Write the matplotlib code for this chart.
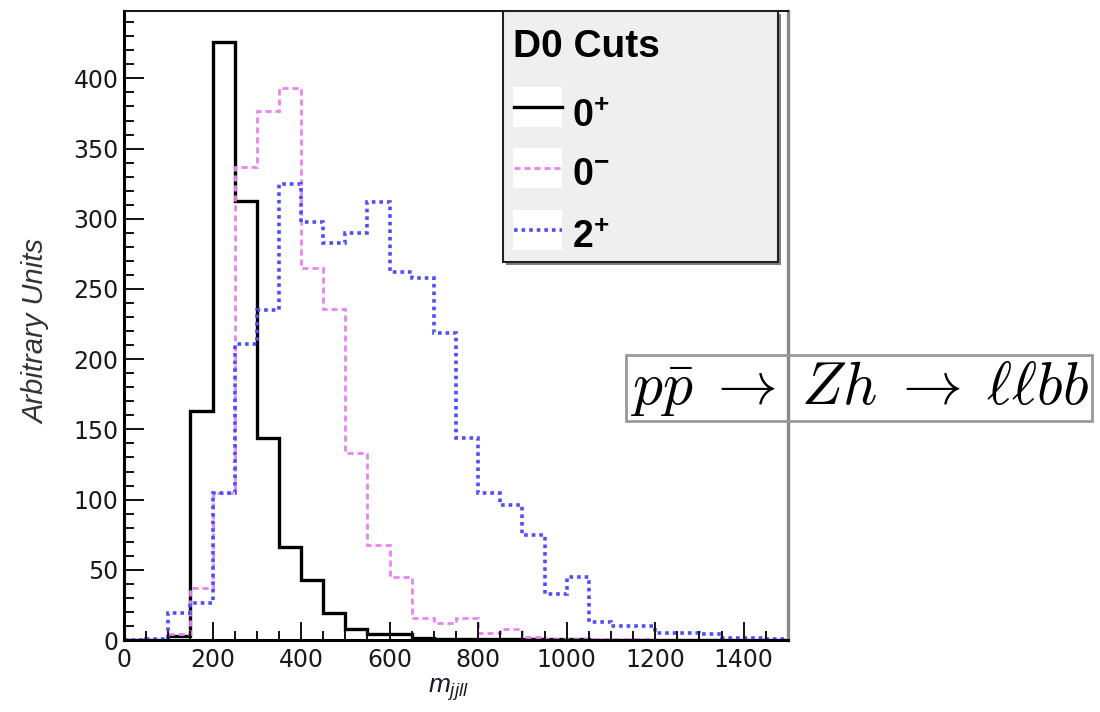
import numpy as np
import matplotlib
matplotlib.use("Agg")
import matplotlib.pyplot as plt
from matplotlib.patches import Rectangle
from matplotlib.ticker import MultipleLocator

# mathtext in a Helvetica-like face, the big formula uses cm separately
plt.rcParams['mathtext.fontset'] = 'custom'
plt.rcParams['mathtext.rm'] = 'Liberation Sans'
plt.rcParams['mathtext.it'] = 'Liberation Sans:italic'
plt.rcParams['mathtext.bf'] = 'Liberation Sans:bold'

# histogram bins, m_jjll from 0 to 1500 in steps of 50
bin_edges = np.arange(0, 1550, 50)

# 0+ (solid black)
zero_plus = [0, 0, 3, 163, 426, 313, 144, 66, 43, 19, 8, 4, 4, 1.5, 1,
             1, 0.5, 0.5, 0.5, 0.5, 0.5, 0.3, 0.3, 0.3, 0.2, 0.2, 0.2, 0.2, 0.1, 0.1]
# 0- (dashed magenta)
zero_minus = [0, 0, 4, 37, 105, 337, 377, 393, 265, 236, 133, 68, 45, 16, 12,
              16, 5, 8, 2, 1, 1, 0.5, 0.5, 0.5, 0.3, 0.2, 0.2, 0.1, 0.1, 0.1]
# 2+ (dotted blue)
two_plus = [0, 1, 19, 26, 105, 211, 235, 325, 298, 283, 290, 312, 262, 258, 219,
            144, 105, 96, 75, 33, 45, 13, 10, 10, 5, 5, 4, 1.5, 1.5, 1]

labels = [r'$\mathbf{0^{+}}$', r'$\mathbf{0^{-}}$', r'$\mathbf{2^{+}}$']
colors = ['black', '#e884f0', '#4d4dfb']
styles = ['-', (0, (2.2, 1.4)), (0, (1.0, 1.1))]
widths = [2.4, 2.0, 2.6]

fig = plt.figure(figsize=(11, 7.12), dpi=100)
ax = fig.add_axes([124/1100, 1-640/712, 664/1100, 629/712])

for vals, c, ls, lw in zip([zero_plus, zero_minus, two_plus], colors, styles, widths):
    ax.stairs(vals, bin_edges, color=c, linestyle=ls, linewidth=lw, baseline=0)

ax.set_xlim(0, 1500)
ax.set_ylim(0, 448)
ax.xaxis.set_major_locator(MultipleLocator(200))
ax.xaxis.set_minor_locator(MultipleLocator(50))
ax.yaxis.set_major_locator(MultipleLocator(50))
ax.yaxis.set_minor_locator(MultipleLocator(10))

ax.tick_params(axis='both', which='both', direction='in', top=False, right=False,
               colors='#111111', width=1.4, labelsize=17)
ax.tick_params(axis='x', which='major', length=13, pad=6)
ax.tick_params(axis='x', which='minor', length=6.5)
ax.tick_params(axis='y', which='major', length=14.5, pad=4)
ax.tick_params(axis='y', which='minor', length=7)
for lab in ax.get_xticklabels() + ax.get_yticklabels():
    lab.set_color('#1a1a1a')

ax.spines['left'].set_linewidth(2.2)
ax.spines['bottom'].set_linewidth(2.2)
ax.spines['top'].set_linewidth(1.3)
ax.spines['right'].set_linewidth(2.4)
ax.spines['right'].set_color('#888888')

# axis titles
fig.text(448/1100, 1-690/712, r'$m_{jjll}$', fontsize=19, color='#1a1a2a',
         ha='center', va='center')
fig.text(36/1100, 1-331/712, 'Arbitrary Units', rotation=90, fontsize=21,
         family='Liberation Sans', style='italic', color='#333333',
         ha='center', va='center')

# legend box, ROOT style with shadow
bx0, bx1 = (503-124)/664, (778-124)/664
by0, by1 = (640-262)/629, 1.0
ax.add_patch(Rectangle((bx0 + 0.005, by0 - 0.005), bx1 - bx0, by1 - by0,
                       transform=ax.transAxes, fc='#808080', ec='none',
                       clip_on=False, zorder=5))
ax.add_patch(Rectangle((bx0, by0), bx1 - bx0, by1 - by0, transform=ax.transAxes,
                       fc='#efefef', ec='#222222', lw=1.5, clip_on=False, zorder=6))
ax.text((513-124)/664, (640-47)/629, 'D0 Cuts', transform=ax.transAxes,
        fontsize=28, weight='bold', family='Liberation Sans', va='center',
        zorder=7)

handle_y = [107, 168, 230]
text_base = [127, 185, 248]
for lab, c, ls, lw, hy, ty in zip(labels, colors, styles, widths, handle_y, text_base):
    ax.add_patch(Rectangle(((513-124)/664, (640-hy-20)/629), 49/664, 40/629,
                           transform=ax.transAxes, fc='white', ec='none',
                           clip_on=False, zorder=7))
    ax.plot([(514-124)/664, (562-124)/664], [(640-hy)/629]*2, transform=ax.transAxes,
            color=c, linestyle=ls, linewidth=lw, clip_on=False, zorder=8)
    ax.text((572-124)/664, (640-ty)/629, lab, transform=ax.transAxes,
            fontsize=27, va='baseline', zorder=8)

# process annotation
fig.text(859/1100, 1-388/712,
         r'$p\bar{p}\;\rightarrow\;Zh\;\rightarrow\;\ell\ell bb$',
         fontsize=43, math_fontfamily='cm', ha='center', va='center',
         bbox=dict(boxstyle='square,pad=0.06', fc='none', ec='#999999', lw=2))

fig.savefig('out.png', dpi=100)
